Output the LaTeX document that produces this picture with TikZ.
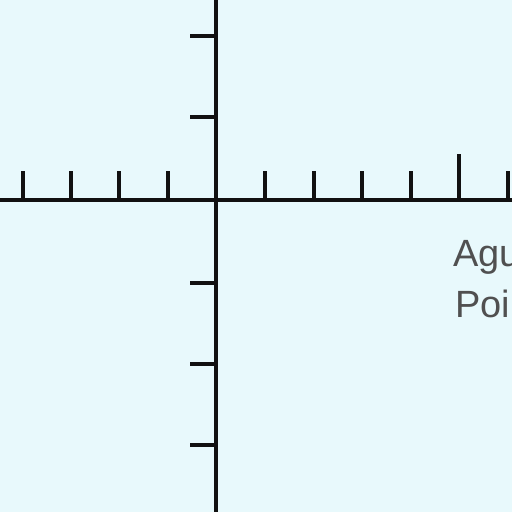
\documentclass[tikz,border=0pt]{standalone}
\usepackage{fontspec}
\setmainfont{Liberation Sans}
\definecolor{paper}{RGB}{232,249,252}
\definecolor{ink}{RGB}{17,17,17}
\definecolor{labelgrey}{RGB}{80,80,80}
\tikzset{
  axisline/.style={line width=2.2pt, draw=ink, line cap=butt},
  tickmark/.style={line width=2.0pt, draw=ink, line cap=butt},
  axislabel/.style={font=\fontsize{21.6}{28}\selectfont, text=labelgrey, anchor=base west, inner sep=0pt},
}
\begin{document}
\begin{tikzpicture}
\useasboundingbox (0,0) rectangle (10.24,10.24);
\clip (0,0) rectangle (10.24,10.24);
\fill[paper] (0,0) rectangle (10.24,10.24);
% axes
\coordinate (xleft) at (0,6.24);
\coordinate (xright) at (10.24,6.24);
\coordinate (ybottom) at (4.32,0);
\coordinate (ytop) at (4.32,10.24);
\draw[axisline] (xleft) -- (xright);
\draw[axisline] (ybottom) -- (ytop);
% ticks on the x axis
\foreach \x in {0.46,1.42,2.38,3.36,5.30,6.28,7.24,8.22,10.16}
  \draw[tickmark] (\x,6.24) -- (\x,6.82);
\draw[tickmark] (9.18,6.24) -- (9.18,7.16);
% ticks on the y axis
\foreach \y in {9.52,7.90,4.58,2.96,1.34}
  \draw[tickmark] (3.80,\y) -- (4.32,\y);
% label
\node[axislabel] (agu) at (9.06,4.90) {Agu};
\node[axislabel] (poi) at (9.10,3.90) {Poi};
\end{tikzpicture}
\end{document}
